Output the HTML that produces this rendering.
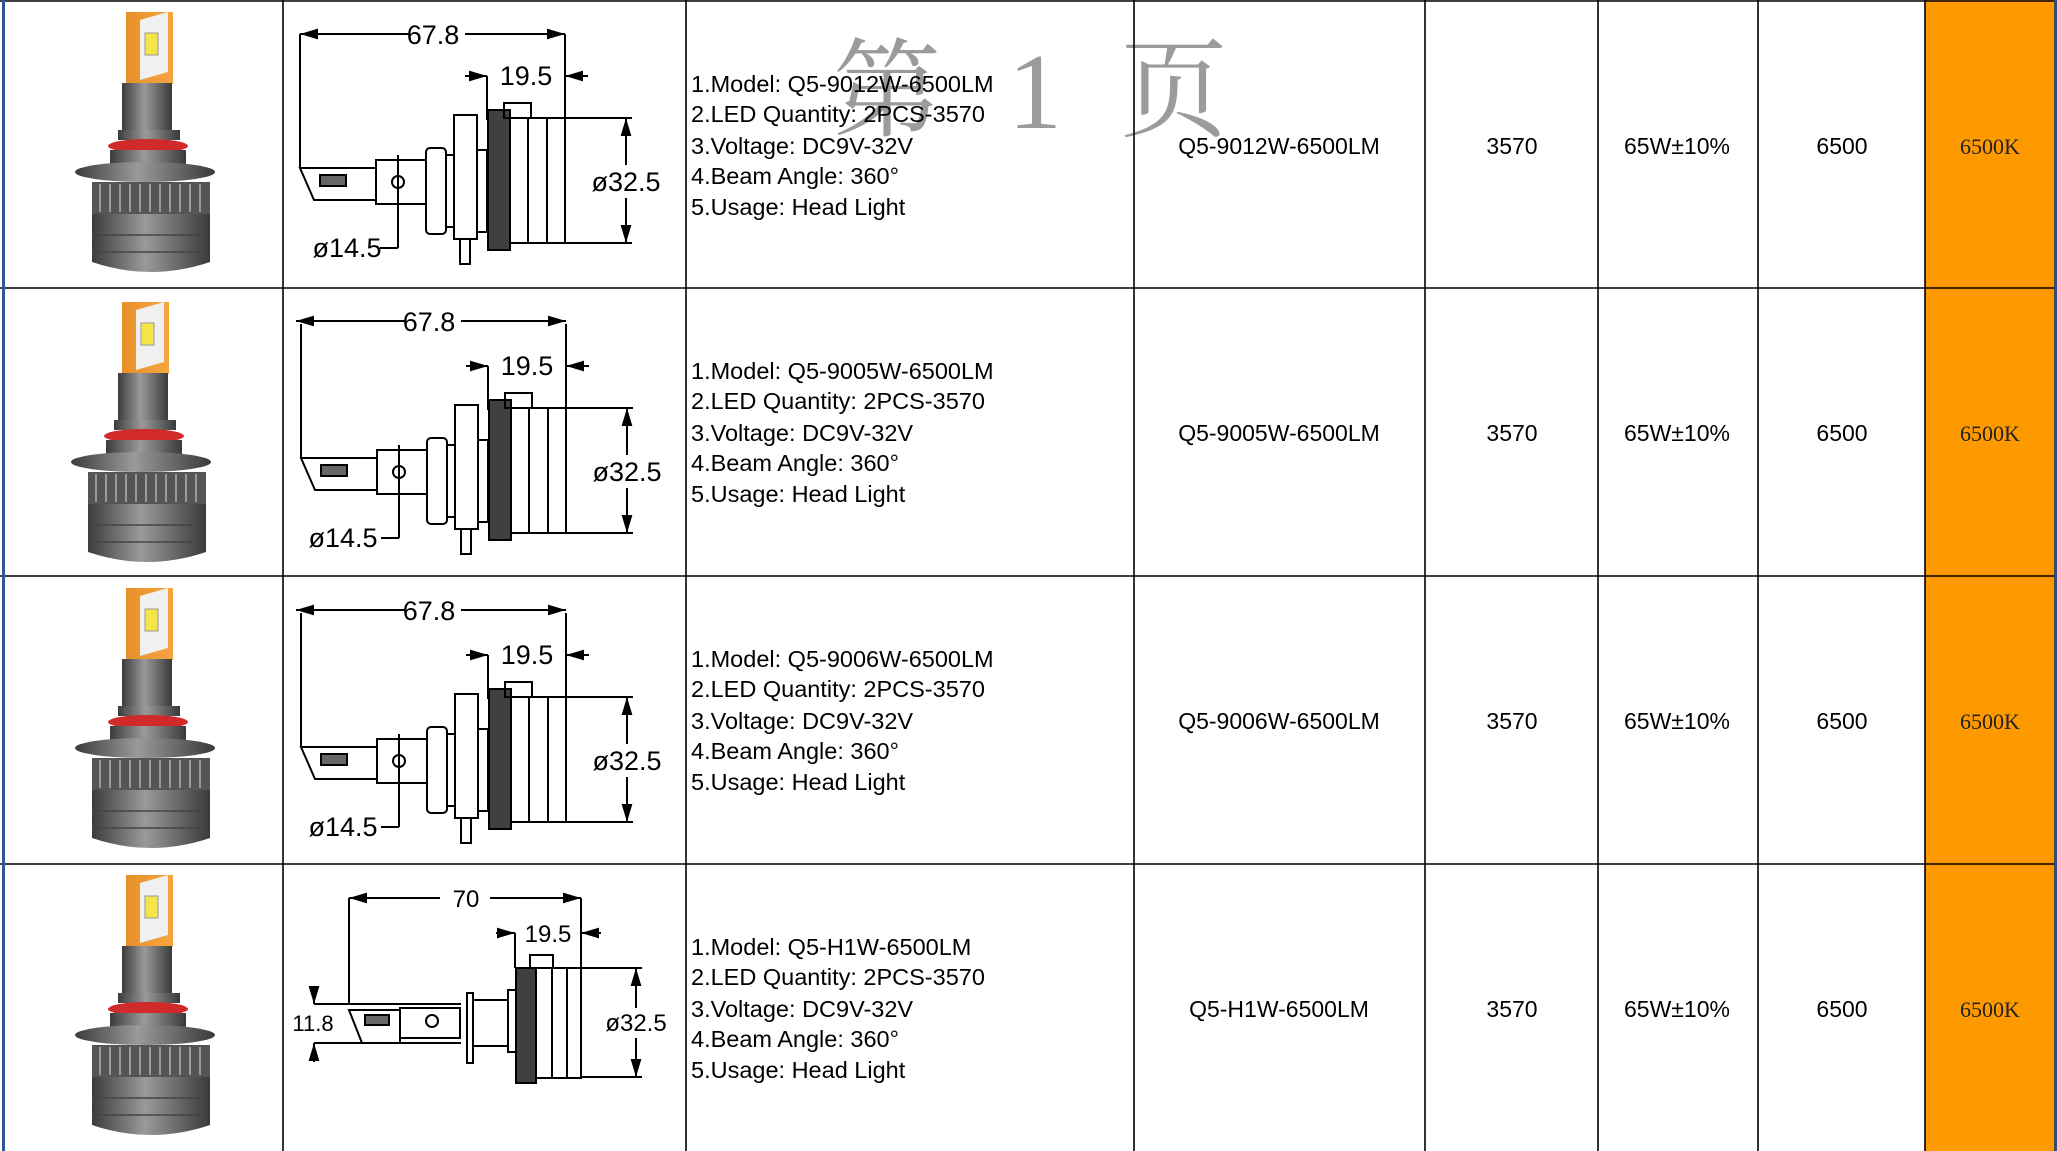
<!DOCTYPE html>
<html><head><meta charset="utf-8"><style>
html,body{margin:0;padding:0;background:#fff;width:2057px;height:1151px;overflow:hidden}
svg{display:block}
.t{font-family:"Liberation Sans",sans-serif;font-size:23.5px;fill:#000}
.d{font-family:"Liberation Sans",sans-serif;font-size:27px;fill:#000}
.m{font-family:"Liberation Sans",sans-serif;font-size:23px;fill:#000}
.k{font-family:"Liberation Serif",serif;font-size:22px;fill:#222}
.w{font-family:"Liberation Serif","Noto Serif CJK SC",serif;font-size:108px;fill:#8a8a8a;fill-opacity:.85}
</style></head><body>
<svg width="2057" height="1151" viewBox="0 0 2057 1151" xmlns="http://www.w3.org/2000/svg">
<defs>
<linearGradient id="mg" x1="0" x2="1" y1="0" y2="0">
<stop offset="0" stop-color="#3c3c3c"/><stop offset=".45" stop-color="#9a9a9a"/><stop offset="1" stop-color="#3a3a3a"/></linearGradient>
<linearGradient id="og" x1="0" x2="1"><stop offset="0" stop-color="#e8902a"/><stop offset="1" stop-color="#f5a640"/></linearGradient>
<marker id="ar" viewBox="0 0 10 10" refX="10" refY="5" markerWidth="9" markerHeight="9" orient="auto-start-reverse"><path d="M0,2 L10,5 L0,8 z" fill="#000"/></marker>
<g id="bulb">
<rect x="126" y="12" width="47" height="72" fill="url(#og)"/>
<polygon points="140,20 168,12 168,72 140,80" fill="#f0f0f0"/>
<rect x="145" y="33" width="13" height="22" fill="#f4e64a" stroke="#999" stroke-width="1"/>
<rect x="122" y="83" width="50" height="55" fill="url(#mg)"/>
<rect x="118" y="130" width="62" height="10" fill="url(#mg)"/>
<ellipse cx="148" cy="146" rx="40" ry="7" fill="#d02a2a"/>
<rect x="110" y="150" width="76" height="25" fill="url(#mg)"/>
<ellipse cx="145" cy="172" rx="70" ry="10" fill="url(#mg)"/>
<rect x="92" y="182" width="118" height="32" fill="#555"/>
<g stroke="#999" stroke-width="2"><line x1="100" y1="184" x2="100" y2="212"/><line x1="110" y1="184" x2="110" y2="212"/><line x1="120" y1="184" x2="120" y2="212"/><line x1="130" y1="184" x2="130" y2="212"/><line x1="140" y1="184" x2="140" y2="212"/><line x1="150" y1="184" x2="150" y2="212"/><line x1="160" y1="184" x2="160" y2="212"/><line x1="170" y1="184" x2="170" y2="212"/><line x1="180" y1="184" x2="180" y2="212"/><line x1="190" y1="184" x2="190" y2="212"/><line x1="200" y1="184" x2="200" y2="212"/></g>
<path d="M92,214 L210,214 L210,262 Q151,282 92,262 z" fill="url(#mg)"/>
<line x1="92" y1="235" x2="210" y2="235" stroke="#444" stroke-width="1.5"/>
<line x1="92" y1="252" x2="210" y2="252" stroke="#444" stroke-width="1.5"/>
</g>
<g id="draw" fill="none" stroke="#000" stroke-width="2">
<line x1="300" y1="34" x2="300" y2="168"/>
<line x1="565" y1="34" x2="565" y2="118"/>
<line x1="487" y1="76" x2="487" y2="120"/>
<line x1="465" y1="76" x2="487" y2="76" marker-end="url(#ar)"/>
<line x1="588" y1="76" x2="565" y2="76" marker-end="url(#ar)"/>
<polygon points="300,168 376,168 376,200 314,200"/>
<rect x="376" y="160" width="50" height="44"/>
<rect x="320" y="175" width="26" height="11" fill="#000" fill-opacity=".6"/>
<circle cx="398" cy="182" r="6"/>
<rect x="426" y="148" width="20" height="86" rx="4"/>
<rect x="446" y="155" width="8" height="72"/>
<rect x="454" y="115" width="23" height="124"/>
<rect x="460" y="239" width="10" height="25"/>
<rect x="477" y="150" width="10" height="82"/>
<rect x="488" y="110" width="22" height="140" fill="#000" fill-opacity=".75"/>
<rect x="510" y="118" width="55" height="125"/>
<line x1="528" y1="118" x2="528" y2="243"/><line x1="547" y1="118" x2="547" y2="243"/>
<rect x="504" y="103" width="27" height="15"/>
<line x1="398" y1="155" x2="398" y2="248"/>
<line x1="380" y1="248" x2="398" y2="248"/>
<line x1="565" y1="118" x2="632" y2="118"/>
<line x1="565" y1="243" x2="632" y2="243"/>
<line x1="626" y1="165" x2="626" y2="118" marker-end="url(#ar)"/>
<line x1="626" y1="198" x2="626" y2="243" marker-end="url(#ar)"/>
</g>
</defs>

<rect x="1925" y="0" width="132" height="1151" fill="#ff9900"/>

<text class="w" x="833" y="128">第</text>
<text class="w" x="1008" y="128">1</text>
<text class="w" x="1120" y="128">页</text>

<use href="#bulb"/>
<use href="#bulb" transform="translate(-4,290)"/>
<use href="#bulb" transform="translate(0,576)"/>
<use href="#bulb" transform="translate(0,863)"/>

<g>
<line x1="300" y1="34" x2="410" y2="34" stroke="#000" stroke-width="2" marker-start="url(#ar)"/>
<line x1="465" y1="34" x2="565" y2="34" stroke="#000" stroke-width="2" marker-end="url(#ar)"/>
<use href="#draw"/>
<text class="d" x="433" y="44" text-anchor="middle">67.8</text>
<text class="d" x="526" y="85" text-anchor="middle">19.5</text>
<text class="d" x="347" y="257" text-anchor="middle">ø14.5</text>
<text class="d" x="626" y="191" text-anchor="middle">ø32.5</text>
</g>
<g transform="translate(-4,287)">
<line x1="300" y1="34" x2="410" y2="34" stroke="#000" stroke-width="2" marker-start="url(#ar)"/>
<line x1="465" y1="34" x2="570" y2="34" stroke="#000" stroke-width="2" marker-end="url(#ar)"/>
<use href="#draw" transform="translate(5,3)"/>
<text class="d" x="433" y="44" text-anchor="middle">67.8</text>
<text class="d" x="531" y="88" text-anchor="middle">19.5</text>
<text class="d" x="347" y="260" text-anchor="middle">ø14.5</text>
<text class="d" x="631" y="194" text-anchor="middle">ø32.5</text>
</g>
<g transform="translate(-4,576)">
<line x1="300" y1="34" x2="410" y2="34" stroke="#000" stroke-width="2" marker-start="url(#ar)"/>
<line x1="465" y1="34" x2="570" y2="34" stroke="#000" stroke-width="2" marker-end="url(#ar)"/>
<use href="#draw" transform="translate(5,3)"/>
<text class="d" x="433" y="44" text-anchor="middle">67.8</text>
<text class="d" x="531" y="88" text-anchor="middle">19.5</text>
<text class="d" x="347" y="260" text-anchor="middle">ø14.5</text>
<text class="d" x="631" y="194" text-anchor="middle">ø32.5</text>
</g>

<g fill="none" stroke="#000" stroke-width="2">
<line x1="349" y1="898" x2="440" y2="898" marker-start="url(#ar)"/>
<line x1="490" y1="898" x2="581" y2="898" marker-end="url(#ar)"/>
<line x1="349" y1="898" x2="349" y2="1004"/>
<line x1="581" y1="898" x2="581" y2="968"/>
<line x1="515" y1="933" x2="515" y2="968"/>
<line x1="496" y1="933" x2="515" y2="933" marker-end="url(#ar)"/>
<line x1="601" y1="933" x2="581" y2="933" marker-end="url(#ar)"/>
<line x1="314" y1="1004" x2="461" y2="1004"/>
<line x1="314" y1="1043" x2="461" y2="1043"/>
<line x1="314" y1="986" x2="314" y2="1004" marker-end="url(#ar)"/>
<line x1="314" y1="1062" x2="314" y2="1043" marker-end="url(#ar)"/>
<polygon points="349,1010 400,1010 400,1043 362,1043"/>
<rect x="400" y="1008" width="60" height="30"/>
<rect x="365" y="1015" width="24" height="10" fill="#000" fill-opacity=".6"/>
<circle cx="432" cy="1021" r="6"/>
<rect x="467" y="993" width="6" height="70"/>
<rect x="473" y="1000" width="35" height="46"/>
<rect x="508" y="990" width="8" height="62"/>
<rect x="516" y="968" width="20" height="115" fill="#000" fill-opacity=".75"/>
<rect x="536" y="968" width="45" height="110"/>
<line x1="552" y1="968" x2="552" y2="1078"/><line x1="567" y1="968" x2="567" y2="1078"/>
<rect x="530" y="955" width="23" height="13"/>
<line x1="581" y1="968" x2="642" y2="968"/>
<line x1="581" y1="1077" x2="642" y2="1077"/>
<line x1="636" y1="1008" x2="636" y2="968" marker-end="url(#ar)"/>
<line x1="636" y1="1038" x2="636" y2="1077" marker-end="url(#ar)"/>
</g>
<text class="d" x="466" y="907" text-anchor="middle" style="font-size:24px">70</text>
<text class="d" x="548" y="942" text-anchor="middle" style="font-size:24px">19.5</text>
<text class="d" x="313" y="1031" text-anchor="middle" style="font-size:22px">11.8</text>
<text class="d" x="636" y="1031" text-anchor="middle" style="font-size:24px">ø32.5</text>

<g class="t">
<text x="691" y="92">1.Model: Q5-9012W-6500LM</text>
<text x="691" y="122">2.LED Quantity: 2PCS-3570</text>
<text x="691" y="154">3.Voltage: DC9V-32V</text>
<text x="691" y="184">4.Beam Angle: 360°</text>
<text x="691" y="215">5.Usage: Head Light</text>
</g>
<g class="t" transform="translate(0,287)">
<text x="691" y="92">1.Model: Q5-9005W-6500LM</text>
<text x="691" y="122">2.LED Quantity: 2PCS-3570</text>
<text x="691" y="154">3.Voltage: DC9V-32V</text>
<text x="691" y="184">4.Beam Angle: 360°</text>
<text x="691" y="215">5.Usage: Head Light</text>
</g>
<g class="t" transform="translate(0,575)">
<text x="691" y="92">1.Model: Q5-9006W-6500LM</text>
<text x="691" y="122">2.LED Quantity: 2PCS-3570</text>
<text x="691" y="154">3.Voltage: DC9V-32V</text>
<text x="691" y="184">4.Beam Angle: 360°</text>
<text x="691" y="215">5.Usage: Head Light</text>
</g>
<g class="t" transform="translate(0,863)">
<text x="691" y="92">1.Model: Q5-H1W-6500LM</text>
<text x="691" y="122">2.LED Quantity: 2PCS-3570</text>
<text x="691" y="154">3.Voltage: DC9V-32V</text>
<text x="691" y="184">4.Beam Angle: 360°</text>
<text x="691" y="215">5.Usage: Head Light</text>
</g>

<g class="m" text-anchor="middle">
<text x="1279" y="154">Q5-9012W-6500LM</text><text x="1512" y="154">3570</text><text x="1677" y="154">65W±10%</text><text x="1842" y="154">6500</text>
<text x="1279" y="441">Q5-9005W-6500LM</text><text x="1512" y="441">3570</text><text x="1677" y="441">65W±10%</text><text x="1842" y="441">6500</text>
<text x="1279" y="729">Q5-9006W-6500LM</text><text x="1512" y="729">3570</text><text x="1677" y="729">65W±10%</text><text x="1842" y="729">6500</text>
<text x="1279" y="1017">Q5-H1W-6500LM</text><text x="1512" y="1017">3570</text><text x="1677" y="1017">65W±10%</text><text x="1842" y="1017">6500</text>
</g>
<g class="k" text-anchor="middle">
<text x="1990" y="154">6500K</text><text x="1990" y="441">6500K</text><text x="1990" y="729">6500K</text><text x="1990" y="1017">6500K</text>
</g>

<g stroke="#000" stroke-width="1.6">
<line x1="0" y1="1" x2="2057" y2="1"/>
<line x1="0" y1="288" x2="2057" y2="288"/>
<line x1="0" y1="576" x2="2057" y2="576"/>
<line x1="0" y1="864" x2="2057" y2="864"/>
<line x1="283" y1="0" x2="283" y2="1151"/>
<line x1="686" y1="0" x2="686" y2="1151"/>
<line x1="1134" y1="0" x2="1134" y2="1151"/>
<line x1="1425" y1="0" x2="1425" y2="1151"/>
<line x1="1598" y1="0" x2="1598" y2="1151"/>
<line x1="1758" y1="0" x2="1758" y2="1151"/>
<line x1="1925" y1="0" x2="1925" y2="1151"/>
</g>
<rect x="2" y="0" width="3" height="1151" fill="#2f5597"/>
<rect x="2054" y="0" width="3" height="1151" fill="#3a4a6a"/>
</svg>
</body></html>
